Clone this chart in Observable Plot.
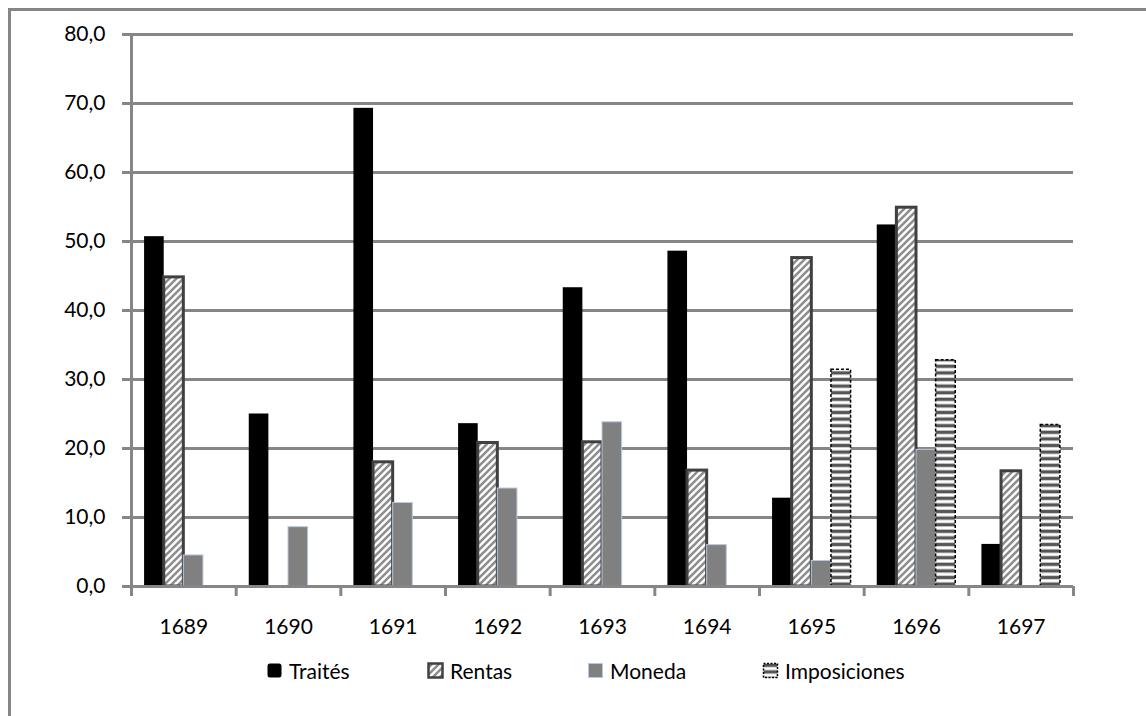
<!DOCTYPE html>
<html><head><meta charset="utf-8">
<script src="https://cdn.jsdelivr.net/npm/d3@7"></script>
<script src="https://cdn.jsdelivr.net/npm/@observablehq/plot@0.6"></script>
<style>
body{margin:0;overflow:hidden;background:#fff;font-family:Lato,"Open Sans",sans-serif}
#wrap{position:relative;width:1146px;height:716px;overflow:hidden}
#frame{position:absolute;left:8px;top:8px;width:1200px;height:800px;border-left:3px solid #868686;border-top:3px solid #868686}
#chart{position:absolute;left:0;top:0}
#defs{position:absolute;left:0;top:0;width:0;height:0}
.item{position:absolute;top:658px;height:24px;display:flex;align-items:center;font-size:21px;color:#000;white-space:nowrap}
.item svg{margin-right:6px}
</style></head>
<body>
<div id="wrap">
<div id="frame"></div>
<svg id="defs" width="0" height="0">
  <defs>
    <pattern id="hatchR" patternUnits="userSpaceOnUse" width="7" height="7">
      <rect width="7" height="7" fill="#fff"/>
      <path d="M-1,8 L8,-1 M-4.5,4.5 L4.5,-4.5 M2.5,11.5 L11.5,2.5" stroke="#8e8e8e" stroke-width="2.6"/>
    </pattern>
    <pattern id="hatchI" patternUnits="userSpaceOnUse" width="6" height="6.6">
      <rect width="6" height="6.6" fill="#fff"/>
      <rect y="1.6" width="6" height="3.4" fill="#555"/>
    </pattern>
  </defs>
</svg>
<div id="chart"></div>
<div id="legend"></div>
</div>
<script>
const years = [1689, 1690, 1691, 1692, 1693, 1694, 1695, 1696, 1697];
const series = ["Traités", "Rentas", "Moneda", "Imposiciones"];
const traites      = [50.7, 25.0, 69.3, 23.6, 43.3, 48.6, 12.8, 52.4, 6.1];
const rentas       = [44.8, null, 18.0, 20.8, 20.9, 16.8, 47.6, 54.9, 16.7];
const moneda       = [4.5, 8.6, 12.1, 14.2, 23.8, 6.0, 3.7, 19.8, null];
const imposiciones = [null, null, null, null, null, null, 31.4, 32.8, 23.4];
const yTicks = [0, 10, 20, 30, 40, 50, 60, 70, 80];

const seriesValues = [traites, rentas, moneda, imposiciones];
const rows = [];
years.forEach((yr, i) => seriesValues.forEach((arr, k) => {
  if (arr[i] != null) rows.push({i, k, year: yr, series: series[k], value: arr[i]});
}));

const styles = {
  "Traités": {fill: "#000"},
  "Rentas": {fill: "url(#hatchR)", stroke: "#404040", strokeWidth: 3},
  "Moneda": {fill: "#808080", stroke: "#b9c8e2", strokeWidth: 1},
  "Imposiciones": {fill: "url(#hatchI)", stroke: "#000", strokeWidth: 1.5, strokeDasharray: "3,2"}
};

const pad = 0.125, bw = (1 - 2 * pad) / 4;
const grey = "#868686";

const chart = Plot.plot({
  width: 1146, height: 650,
  marginLeft: 131, marginRight: 73, marginTop: 34, marginBottom: 64,
  x: {type: "linear", domain: [0, years.length], axis: null},
  y: {domain: [0, 80], axis: null},
  style: {fontFamily: "Lato, 'Open Sans', sans-serif", background: "transparent"},
  marks: [
    Plot.ruleY(yTicks, {stroke: grey, strokeWidth: 3}),
    Plot.axisY({ticks: yTicks, label: null, tickSize: 9, tickPadding: 17, fontSize: 21, stroke: grey, strokeWidth: 3,
      tickFormat: d => d.toFixed(1).replace(".", ",")}),
    ...series.map(s => Plot.rectY(rows.filter(d => d.series === s), {
      x1: d => d.i + pad + d.k * bw,
      x2: d => d.i + pad + (d.k + 1) * bw,
      y1: d => 0, y2: "value",
      ...styles[s]
    })),
    Plot.ruleY([0], {stroke: grey, strokeWidth: 3}),
    Plot.ruleX([0], {stroke: grey, strokeWidth: 3}),
    Plot.axisX({ticks: d3.range(0, years.length + 1), label: null, tickSize: 10, tickFormat: () => "", stroke: grey, strokeWidth: 3}),
    Plot.axisX({ticks: d3.range(0.5, years.length, 1), label: null, tickSize: 0, tickPadding: 33, fontSize: 21,
      tickFormat: d => String(years[Math.floor(d)])})
  ]
});
document.getElementById("chart").appendChild(chart);

// legend
const legendX = [266, 427, 587, 762];
const legend = d3.select("#legend");
series.forEach((s, k) => {
  const item = legend.append("div").attr("class", "item").style("left", legendX[k] + "px");
  const sw = item.append("svg").attr("width", 17).attr("height", 17);
  const st = styles[s];
  sw.append("rect").attr("x", 1.5).attr("y", 1.5).attr("width", 14).attr("height", 14)
    .attr("rx", s === "Traités" ? 2.5 : 0)
    .attr("fill", st.fill).attr("stroke", st.stroke || "none")
    .attr("stroke-width", st.strokeWidth ? Math.min(st.strokeWidth, 2.5) : 0)
    .attr("stroke-dasharray", st.strokeDasharray ? "2,1.5" : null);
  item.append("span").text(s);
});
</script>
</body></html>
